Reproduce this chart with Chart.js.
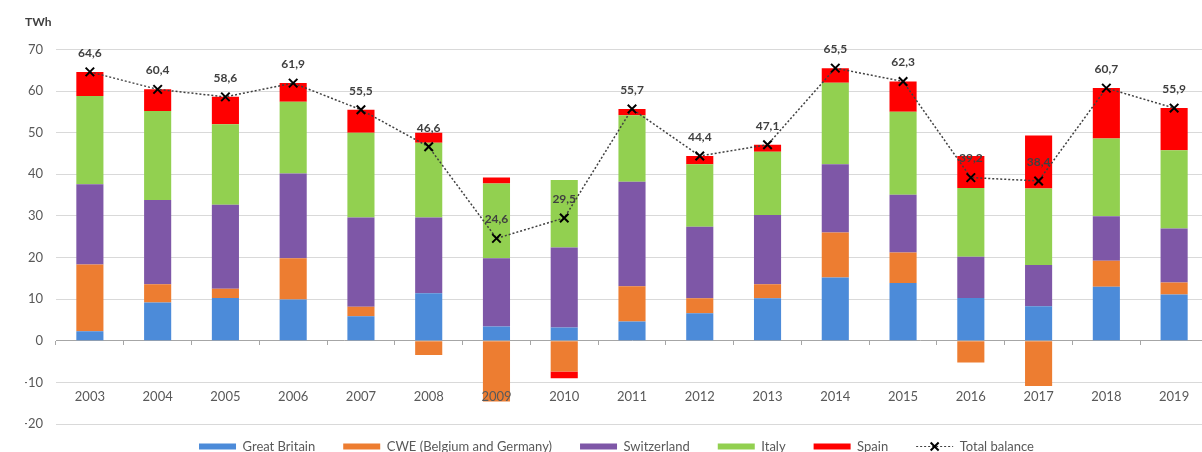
<!DOCTYPE html>
<html>
<head>
<meta charset="utf-8">
<script src="https://cdn.jsdelivr.net/npm/chart.js@4"></script>
<style>
html,body{margin:0;padding:0;background:#fff;overflow:hidden;}
#wrap{width:1210px;height:452px;}
</style>
</head>
<body>
<div id="wrap"><canvas id="c" width="1210" height="452"></canvas></div>
<script>
const years = ['2003','2004','2005','2006','2007','2008','2009','2010','2011','2012','2013','2014','2015','2016','2017','2018','2019'];
const greatBritain = [2.3, 9.2, 10.3, 9.9, 5.9, 11.4, 3.4, 3.2, 4.6, 6.6, 10.2, 15.2, 13.9, 10.3, 8.3, 13.0, 11.1];
const cwe = [16.0, 4.4, 2.2, 9.9, 2.3, -3.4, -14.6, -7.4, 8.5, 3.6, 3.4, 10.8, 7.3, -5.2, -10.9, 6.2, 2.9];
const switzerland = [19.3, 20.2, 20.2, 20.4, 21.4, 18.2, 16.4, 19.2, 25.1, 17.2, 16.6, 16.4, 13.9, 9.9, 9.9, 10.7, 13.0];
const italy = [21.2, 21.4, 19.3, 17.2, 20.4, 18.0, 18.0, 16.2, 16.0, 15.0, 15.2, 19.6, 19.9, 16.5, 18.4, 18.7, 18.8];
const spain = [5.8, 5.2, 6.6, 4.5, 5.5, 2.4, 1.4, -1.6, 1.5, 2.0, 1.7, 3.5, 7.3, 7.7, 12.7, 12.1, 10.1];
const totalBalance = [64.6, 60.4, 58.6, 61.9, 55.5, 46.6, 24.6, 29.5, 55.7, 44.4, 47.1, 65.5, 62.3, 39.2, 38.4, 60.7, 55.9];
const yTicks = [-20, -10, 0, 10, 20, 30, 40, 50, 60, 70];

const FONT = 'Lato';
const TXT = '#595959';

const totalLabels = {
  id: 'totalLabels',
  afterDatasetsDraw(chart) {
    const meta = chart.getDatasetMeta(5);
    const ctx = chart.ctx;
    ctx.save();
    ctx.font = 'bold 12px ' + FONT;
    ctx.fillStyle = '#404040';
    ctx.textAlign = 'center';
    ctx.textBaseline = 'middle';
    meta.data.forEach((pt, i) => {
      ctx.fillText(totalBalance[i].toFixed(1).replace('.', ','), pt.x, pt.y - 19);
    });
    ctx.restore();
  }
};

const legendTweaks = {
  id: 'legendTweaks',
  afterLayout(chart) {
    const lg = chart.legend;
    if (lg) { lg.top -= 12; }
  },
  afterDraw(chart) {
    const lg = chart.legend;
    if (!lg || !lg.legendHitBoxes) return;
    const idx = lg.legendItems.findIndex(it => it.datasetIndex === 5);
    const hb = lg.legendHitBoxes[idx];
    if (!hb) return;
    const bw = lg.options.labels.boxWidth;
    const cy = hb.top + hb.height / 2;
    const ctx = chart.ctx;
    ctx.save();
    ctx.strokeStyle = '#404040';
    ctx.lineWidth = 1.2;
    ctx.setLineDash([2, 2]);
    ctx.beginPath();
    ctx.moveTo(hb.left, cy);
    ctx.lineTo(hb.left + bw, cy);
    ctx.stroke();
    ctx.setLineDash([]);
    ctx.strokeStyle = '#000';
    ctx.lineWidth = 2;
    const cx = hb.left + bw / 2, r = 4;
    ctx.beginPath();
    ctx.moveTo(cx - r, cy - r); ctx.lineTo(cx + r, cy + r);
    ctx.moveTo(cx + r, cy - r); ctx.lineTo(cx - r, cy + r);
    ctx.stroke();
    ctx.restore();
  }
};

function bar(label, data, color) {
  return { type: 'bar', label, data, backgroundColor: color, borderWidth: 0, order: 1, stack: 'flows',
           barPercentage: 0.4, categoryPercentage: 1.0 };
}

function noPad(scale) { scale.paddingLeft = 0; scale.paddingRight = 0; }

new Chart(document.getElementById('c'), {
  data: {
    labels: years,
    datasets: [
      bar('Great Britain', greatBritain, '#4C8BD9'),
      bar('CWE (Belgium and Germany)', cwe, '#ED7D31'),
      bar('Switzerland', switzerland, '#7E57A7'),
      bar('Italy', italy, '#92D050'),
      bar('Spain', spain, '#FF0000'),
      {
        type: 'line', label: 'Total balance', data: totalBalance, order: 0, stack: 'total',
        borderColor: '#404040', borderWidth: 1.5, borderDash: [2, 2], fill: false, tension: 0,
        pointStyle: 'crossRot', pointRadius: 6, pointHoverRadius: 6, pointBorderWidth: 2,
        pointBorderColor: '#000', pointBackgroundColor: '#000', clip: false
      }
    ]
  },
  options: {
    responsive: false,
    animation: false,
    devicePixelRatio: 1,
    layout: { autoPadding: false, padding: { left: 25, right: 2, top: 0, bottom: 0 } },
    scales: {
      x: {
        type: 'category', position: { y: -11.5 }, offset: true, stacked: true,
        afterFit: noPad,
        grid: { display: false, drawTicks: false }, border: { display: false },
        ticks: { font: { family: FONT, size: 13 }, color: TXT, padding: 0, maxRotation: 0, autoSkip: false, z: 1 }
      },
      x0: {
        type: 'category', axis: 'x', position: { y: 0 }, offset: true,
        afterFit: noPad,
        grid: { offset: true, drawOnChartArea: false, drawTicks: true, tickLength: 4, color: '#a6a6a6' },
        border: { display: true, color: '#a6a6a6', width: 1 },
        ticks: { display: false }
      },
      y: {
        stacked: true, min: -20, max: 70,
        afterBuildTicks(scale) { scale.ticks = yTicks.map(v => ({ value: v })); },
        afterFit(scale) { scale.width = 31; },
        grid: { color: c => (c.tick && c.tick.value === 0) ? 'rgba(0,0,0,0)' : '#d9d9d9', drawTicks: false, lineWidth: 1 },
        border: { display: false },
        ticks: { font: { family: FONT, size: 13 }, color: TXT, padding: 13 }
      }
    },
    plugins: {
      title: {
        display: true, text: 'TWh', align: 'start', color: '#404040',
        font: { family: FONT, size: 12, weight: 'bold' }, padding: { top: 15, bottom: 20 }
      },
      legend: {
        position: 'bottom',
        maxHeight: 28,
        labels: {
          font: { family: FONT, size: 13 }, color: TXT, boxWidth: 37, boxHeight: 6, padding: 28,
          generateLabels(chart) {
            const items = Chart.defaults.plugins.legend.labels.generateLabels(chart);
            items.sort((a, b) => a.datasetIndex - b.datasetIndex);
            items.forEach(it => {
              it.lineWidth = 0;
              it.strokeStyle = 'rgba(0,0,0,0)';
              it.lineDash = [];
              if (it.datasetIndex === 5) { it.fillStyle = 'rgba(0,0,0,0)'; }
            });
            return items;
          }
        }
      },
      tooltip: { enabled: false }
    }
  },
  plugins: [totalLabels, legendTweaks]
});
</script>
</body>
</html>
